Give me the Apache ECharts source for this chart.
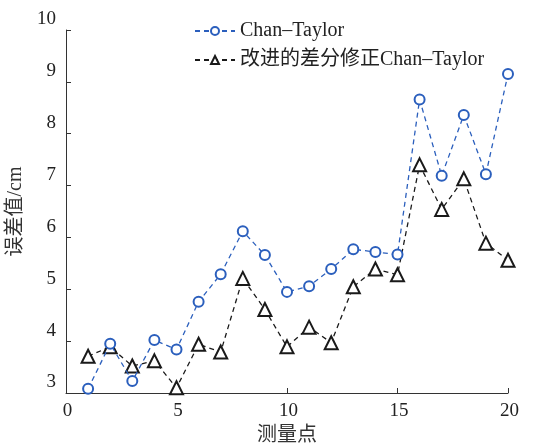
<!DOCTYPE html>
<html>
<head>
<meta charset="utf-8">
<script src="https://cdn.jsdelivr.net/npm/echarts@6/dist/echarts.min.js"></script>
<style>html,body{margin:0;padding:0;background:#fff}#c{width:542px;height:443px}</style>
</head>
<body>
<div id="c"></div>
<script>
var xValues = [1,2,3,4,5,6,7,8,9,10,11,12,13,14,15,16,17,18,19,20];
var chanTaylor = [3.08,3.95,3.23,4.02,3.84,4.76,5.29,6.12,5.66,4.95,5.06,5.39,5.77,5.72,5.67,8.66,7.19,8.36,7.22,9.15];
var improved = [3.71,3.89,3.52,3.62,3.10,3.94,3.79,5.21,4.61,3.89,4.27,3.97,5.05,5.39,5.28,7.40,6.54,7.13,5.89,5.56];
var seriesNames = ['Chan\u2013Taylor', '改进的差分修正Chan\u2013Taylor'];
var xAxisName = '测量点';
var yAxisName = '误差值/cm';

var FONT = '"Liberation Serif", "Noto Sans CJK SC", serif';
function pairs(v){ return xValues.map(function(x,i){ return [x, v[i]]; }); }

var chart = echarts.init(document.getElementById('c'), null, {renderer:'canvas'});
chart.setOption({
  animation: false,
  backgroundColor: '#fff',
  grid: {left: 66, right: 34, top: 30, bottom: 50, containLabel: false, outerBoundsMode: 'none'},
  legend: {
    orient: 'vertical', left: 189, top: 16, itemGap: 9,
    itemWidth: 40, itemHeight: 10,
    textStyle: {fontFamily: FONT, fontSize: 20, color: '#222'},
    data: seriesNames
  },
  xAxis: {
    type: 'value', min: 0, max: 20, interval: 5,
    name: xAxisName, nameLocation: 'middle', nameGap: 33,
    nameTextStyle: {fontFamily: FONT, fontSize: 20, color: '#333'},
    axisLine: {show: true, lineStyle: {color: '#333', width: 1}},
    axisTick: {show: true, inside: true, length: 5, lineStyle: {color: '#333'}},
    axisLabel: {fontFamily: FONT, fontSize: 19, color: '#222', margin: 9, padding: [0,0,0,3]},
    splitLine: {show: false}
  },
  yAxis: {
    type: 'value', min: 3, max: 10, interval: 1,
    name: yAxisName, nameLocation: 'middle', nameGap: 37, nameRotate: 90,
    nameTextStyle: {fontFamily: FONT, fontSize: 20, color: '#333'},
    axisLine: {show: true, lineStyle: {color: '#333', width: 1}},
    axisTick: {show: true, inside: true, length: 5, lineStyle: {color: '#333'}},
    axisLabel: {fontFamily: FONT, fontSize: 19, color: '#222', margin: 10, verticalAlign: 'bottom', lineHeight: 19, padding: [0,0,1,0]},
    splitLine: {show: false}
  },
  series: [
    {
      name: seriesNames[0], type: 'line', data: pairs(chanTaylor),
      symbol: 'emptyCircle', symbolSize: 10,
      lineStyle: {color: '#2b5fbd', width: 1.3, type: [5,4]},
      itemStyle: {color: '#2b5fbd', borderColor: '#2b5fbd', borderWidth: 1.6},
      z: 3
    },
    {
      name: seriesNames[1], type: 'line', data: pairs(improved),
      symbol: 'emptyTriangle', symbolSize: 13,
      lineStyle: {color: '#1a1a1a', width: 1.3, type: [5,4]},
      itemStyle: {color: '#1a1a1a', borderColor: '#1a1a1a', borderWidth: 2.4},
      z: 2
    }
  ]
});
</script>
</body>
</html>
